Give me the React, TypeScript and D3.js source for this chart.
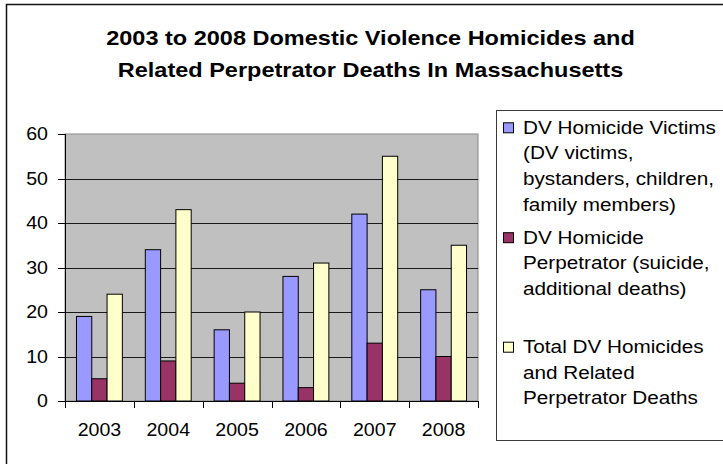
import { scaleBand, scaleLinear } from 'd3';

const years = ['2003', '2004', '2005', '2006', '2007', '2008'];
const victims = [19, 34, 16, 28, 42, 25];
const perpetrators = [5, 9, 4, 3, 13, 10];
const totals = [24, 43, 20, 31, 55, 35];
const yTicks = [0, 10, 20, 30, 40, 50, 60];
const titleLines = [
  '2003 to 2008 Domestic Violence Homicides and',
  'Related Perpetrator Deaths In Massachusetts',
];
const seriesNames = ['victims', 'perpetrators', 'totals'];
const seriesColors = ['#9999ff', '#993366', '#ffffcc'];
const legendLines = [
  ['DV Homicide Victims', '(DV victims,', 'bystanders, children,', 'family members)'],
  ['DV Homicide', 'Perpetrator (suicide,', 'additional deaths)'],
  ['Total DV Homicides', 'and Related', 'Perpetrator Deaths'],
];

const WIDTH = 723;
const HEIGHT = 464;
const PLOT = { left: 65, right: 478, top: 134, bottom: 401 };
const FONT = '"Liberation Sans", Arial, sans-serif';
const STRETCH = 1.12;

// the source renders its text a little wider than Arial, so each label is stretched sideways
function StretchText({
  x,
  y,
  size,
  anchor = 'start',
  bold = false,
  children,
}: {
  x: number;
  y: number;
  size: number;
  anchor?: 'start' | 'middle' | 'end';
  bold?: boolean;
  children: string;
}) {
  return (
    <text
      transform={`translate(${x} ${y}) scale(${STRETCH} 1)`}
      fontFamily={FONT}
      fontSize={size}
      fontWeight={bold ? 'bold' : 'normal'}
      textAnchor={anchor}
      dy="0.35em"
      fill="#000"
    >
      {children}
    </text>
  );
}

export default function App() {
  const values = [victims, perpetrators, totals];

  const x = scaleBand<string>().domain(years).range([PLOT.left, PLOT.right]).paddingInner(0).paddingOuter(0);
  const inner = scaleBand<string>().domain(seriesNames).range([0, x.bandwidth()]).paddingInner(0).paddingOuter(0.75);
  const y = scaleLinear().domain([0, 60]).range([PLOT.bottom, PLOT.top]);

  // legend layout: line height and extra gap after each entry
  const legendX = 503;
  const legendTextX = 523;
  const legendTop = 127.3;
  const lineHeight = 25.6;
  const entryGaps = [7.5, 32.7, 0];
  let cursor = legendTop;
  const legendRows = legendLines.map((lines, i) => {
    const start = cursor;
    cursor += lines.length * lineHeight + entryGaps[i];
    return { lines, start, color: seriesColors[i] };
  });

  const boundaries = years.map((year) => x(year) ?? 0).concat(PLOT.right);

  return (
    <svg
      width={WIDTH}
      height={HEIGHT}
      viewBox={`0 0 ${WIDTH} ${HEIGHT}`}
      style={{ position: 'absolute', left: 0, top: 0, background: '#fff' }}
    >
      <rect x={6.5} y={4.5} width={WIDTH + 10} height={HEIGHT + 10} fill="#fff" stroke="#111" strokeWidth={1.5} />

      {titleLines.map((line, i) => (
        <StretchText key={line} x={370.5} y={37.3 + i * 32.7} size={21} anchor="middle" bold>
          {line}
        </StretchText>
      ))}

      {/* plot area */}
      <rect
        x={PLOT.left}
        y={PLOT.top}
        width={PLOT.right - PLOT.left}
        height={PLOT.bottom - PLOT.top}
        fill="#c0c0c0"
        stroke="#8a8a8a"
        strokeWidth={1}
      />
      {yTicks
        .filter((t) => t > 0 && t < 60)
        .map((t) => (
          <line
            key={`grid-${t}`}
            x1={PLOT.left}
            x2={PLOT.right}
            y1={Math.round(y(t)) + 0.5}
            y2={Math.round(y(t)) + 0.5}
            stroke="#1a1a1a"
            strokeWidth={1}
          />
        ))}

      {years.map((year, yi) =>
        seriesNames.map((name, si) => {
          const v = values[si][yi];
          const bx = (x(year) ?? 0) + (inner(name) ?? 0);
          return (
            <rect
              key={`${year}-${name}`}
              x={bx}
              y={y(v)}
              width={inner.bandwidth()}
              height={y(0) - y(v)}
              fill={seriesColors[si]}
              stroke="#000"
              strokeWidth={1}
            />
          );
        }),
      )}

      {/* axes */}
      <line x1={PLOT.left + 0.5} x2={PLOT.left + 0.5} y1={PLOT.top} y2={PLOT.bottom + 6} stroke="#000" strokeWidth={1} />
      <line x1={PLOT.left - 7} x2={PLOT.right} y1={PLOT.bottom + 0.5} y2={PLOT.bottom + 0.5} stroke="#000" strokeWidth={1} />
      {yTicks.map((t) => (
        <g key={`ytick-${t}`}>
          <line
            x1={PLOT.left - 7}
            x2={PLOT.left}
            y1={Math.round(y(t)) + 0.5}
            y2={Math.round(y(t)) + 0.5}
            stroke="#000"
            strokeWidth={1}
          />
          <StretchText x={48} y={y(t)} size={17.5} anchor="end">
            {String(t)}
          </StretchText>
        </g>
      ))}
      {boundaries.map((bx, i) => (
        <line
          key={`xtick-${i}`}
          x1={Math.round(bx) + 0.5}
          x2={Math.round(bx) + 0.5}
          y1={PLOT.bottom}
          y2={PLOT.bottom + 7}
          stroke="#000"
          strokeWidth={1}
        />
      ))}
      {years.map((year) => (
        <StretchText key={`xl-${year}`} x={(x(year) ?? 0) + x.bandwidth() / 2} y={430} size={17.5} anchor="middle">
          {year}
        </StretchText>
      ))}

      {/* legend */}
      <rect x={496.5} y={110.5} width={WIDTH} height={330} fill="#fff" stroke="#3a3a3a" strokeWidth={1} />
      {legendRows.map((row) => (
        <g key={row.lines[0]}>
          <rect x={legendX + 0.5} y={row.start - 4.5} width={10} height={10} fill={row.color} stroke="#000" strokeWidth={1} />
          {row.lines.map((line, li) => (
            <StretchText key={line} x={legendTextX} y={row.start + li * lineHeight} size={18.5}>
              {line}
            </StretchText>
          ))}
        </g>
      ))}
    </svg>
  );
}
